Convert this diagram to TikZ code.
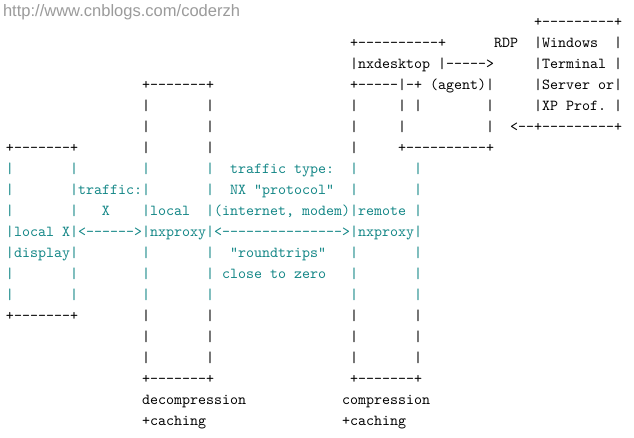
\documentclass[tikz,border=0pt]{standalone}
\usepackage{fontspec}
\setmainfont{Liberation Sans}
\setmonofont{lmmono10-regular.otf}
\definecolor{tealtxt}{RGB}{20,135,135}
\definecolor{wmgray}{RGB}{155,155,155}
\tikzset{
  ascii/.style={anchor=base west, inner sep=0pt, outer sep=0pt,
    font=\fontsize{11.43}{15.75}\selectfont\ttfamily, text=black},
  hl/.style={ascii, text=tealtxt},
  watermark/.style={anchor=base west, inner sep=0pt, outer sep=0pt,
    font=\fontsize{12.4}{14}\selectfont, text=wmgray}
}
% \asc[style]{name}{row}{column}{text}
\newcommand\asc[5][ascii]{\node[#1] (#2) at ({6+8*#4},{26+21*#3}) {#5};}
\begin{document}
\begin{tikzpicture}[x=0.75pt,y=-0.75pt]
\useasboundingbox[fill=white] (0,0) rectangle (634,437);
\node[watermark] (wm) at (3,16) {http://www.cnblogs.com/coderzh};
% row 0
\asc{r0a}{0}{66}{+---------+}
% row 1
\asc{r1a}{1}{43}{+----------+}
\asc{r1b}{1}{61}{RDP}
\asc{r1c}{1}{66}{|Windows~~|}
% row 2
\asc{r2a}{2}{43}{|nxdesktop~|----->}
\asc{r2b}{2}{66}{|Terminal~|}
% row 3
\asc{r3a}{3}{17}{+-------+}
\asc{r3b}{3}{43}{+-----|-+~(agent)|}
\asc{r3c}{3}{66}{|Server~or|}
% row 4
\asc{r4a}{4}{17}{|~~~~~~~|}
\asc{r4b}{4}{43}{|~~~~~|~|~~~~~~~~|}
\asc{r4c}{4}{66}{|XP~Prof.~|}
% row 5
\asc{r5a}{5}{17}{|~~~~~~~|}
\asc{r5b}{5}{43}{|~~~~~|~~~~~~~~~~|}
\asc{r5c}{5}{63}{<--+---------+}
% row 6
\asc{r6a}{6}{0}{+-------+}
\asc{r6b}{6}{17}{|~~~~~~~|}
\asc{r6c}{6}{43}{|~~~~~+----------+}
% row 7
\asc[hl]{r7a}{7}{0}{|~~~~~~~|}
\asc[hl]{r7b}{7}{17}{|~~~~~~~|}
\asc[hl]{r7c}{7}{28}{traffic~type:}
\asc[hl]{r7d}{7}{43}{|~~~~~~~|}
% row 8
\asc[hl]{r8a}{8}{0}{|~~~~~~~|traffic:|~~~~~~~|}
\asc[hl]{r8b}{8}{28}{NX~"protocol"}
\asc[hl]{r8c}{8}{43}{|~~~~~~~|}
% row 9
\asc[hl]{r9a}{9}{0}{|~~~~~~~|~~~X~~~~|local~~|(internet,~modem)|remote~|}
% row 10
\asc[hl]{r10a}{10}{0}{|local~X|<------>|nxproxy|<--------------->|nxproxy|}
% row 11
\asc[hl]{r11a}{11}{0}{|display|~~~~~~~~|~~~~~~~|}
\asc[hl]{r11b}{11}{28}{"roundtrips"}
\asc[hl]{r11c}{11}{43}{|~~~~~~~|}
% row 12
\asc[hl]{r12a}{12}{0}{|~~~~~~~|~~~~~~~~|~~~~~~~|}
\asc[hl]{r12b}{12}{27}{close~to~zero}
\asc[hl]{r12c}{12}{43}{|~~~~~~~|}
% row 13
\asc[hl]{r13a}{13}{0}{|~~~~~~~|~~~~~~~~|~~~~~~~|}
\asc[hl]{r13b}{13}{43}{|~~~~~~~|}
% row 14
\asc{r14a}{14}{0}{+-------+~~~~~~~~|~~~~~~~|}
\asc{r14b}{14}{43}{|~~~~~~~|}
% rows 15-16
\asc{r15a}{15}{17}{|~~~~~~~|}
\asc{r15b}{15}{43}{|~~~~~~~|}
\asc{r16a}{16}{17}{|~~~~~~~|}
\asc{r16b}{16}{43}{|~~~~~~~|}
% row 17
\asc{r17a}{17}{17}{+-------+}
\asc{r17b}{17}{43}{+-------+}
% rows 18-19
\asc{r18a}{18}{17}{decompression}
\asc{r18b}{18}{42}{compression}
\asc{r19a}{19}{17}{+caching}
\asc{r19b}{19}{42}{+caching}
\end{tikzpicture}
\end{document}
